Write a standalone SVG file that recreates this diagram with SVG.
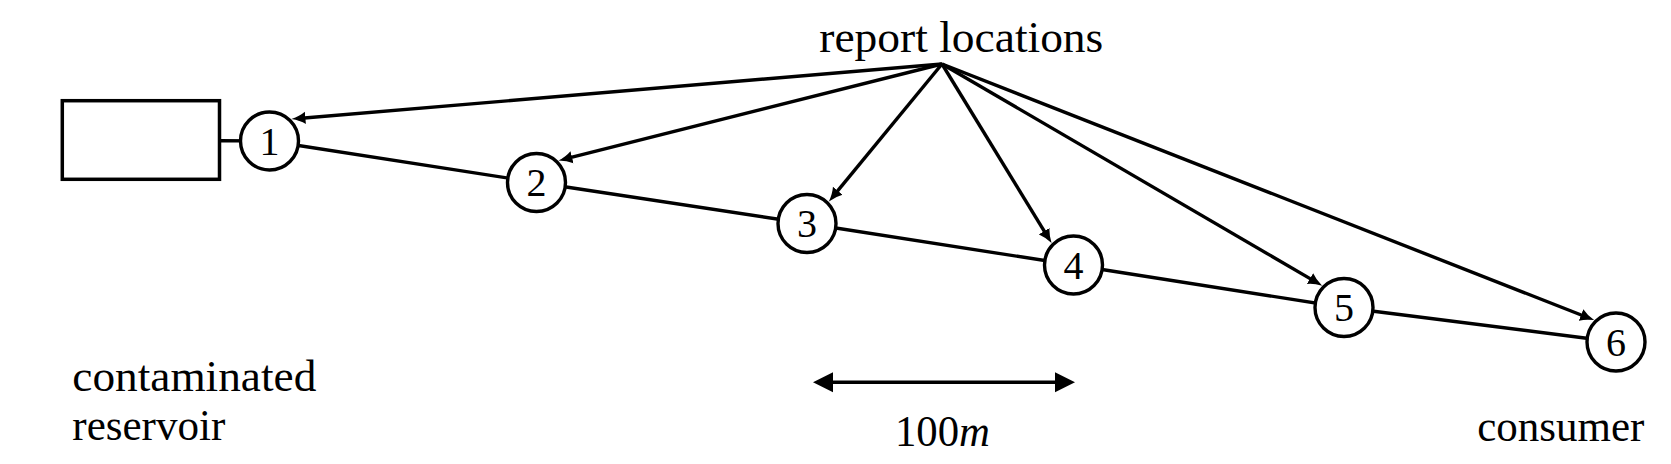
<svg xmlns="http://www.w3.org/2000/svg" width="1671" height="464" viewBox="0 0 1671 464">
<style>
  .lbl { font-family: "Liberation Serif", "Times New Roman", serif; font-size: 44px; fill: #000; }
  .num { font-family: "Liberation Serif", "Times New Roman", serif; font-size: 40px; fill: #000; text-anchor: middle; }
  .node { fill: #fff; stroke: #000; stroke-width: 3.4; }
  .edge { fill: none; stroke: #000; stroke-width: 3.4; }
  .arr { fill: none; stroke: #000; stroke-width: 3.4; marker-end: url(#tip); }
</style>
<defs>
  <marker id="tip" markerUnits="userSpaceOnUse" markerWidth="15" markerHeight="14" viewBox="0 -7 15 14" refX="7" refY="0" orient="auto">
    <path d="M0,-6.2 Q5.5,-2.2 14,0 Q5.5,2.2 0,6.2 Z" fill="#000"/>
  </marker>
  <marker id="big" markerUnits="userSpaceOnUse" markerWidth="21" markerHeight="22" viewBox="0 -11 21 22" refX="11" refY="0" orient="auto-start-reverse">
    <path d="M0,-10 L20,0 L0,10 Z" fill="#000"/>
  </marker>
</defs>
<rect width="1671" height="464" fill="#fff"/>

<g id="connectors">
  <line class="edge" x1="221" y1="140.7" x2="269.5" y2="141"/>
  <line class="edge" x1="269.5" y1="141" x2="536.5" y2="182.5"/>
  <line class="edge" x1="536.5" y1="182.5" x2="807" y2="223.5"/>
  <line class="edge" x1="807" y1="223.5" x2="1073.5" y2="265"/>
  <line class="edge" x1="1073.5" y1="265" x2="1344" y2="307.5"/>
  <line class="edge" x1="1344" y1="307.5" x2="1616" y2="342"/>
  <path class="arr" d="M942,64 L298.4,118.5"/>
  <path class="arr" d="M942,64 L565.2,158.9"/>
  <path class="arr" d="M942,64 L833.3,196.2"/>
  <path class="arr" d="M942,64 L1047.9,237.1"/>
  <path class="arr" d="M942,64 L1316.1,282.1"/>
  <path class="arr" d="M942,64 L1587.6,317.5"/>
  <path d="M822,382.3 L1066,382.3" fill="none" stroke="#000" stroke-width="3.6" marker-start="url(#big)" marker-end="url(#big)"/>
</g>

<g id="reservoir">
  <rect x="62.3" y="100.7" width="157.2" height="78.6" fill="#fff" stroke="#000" stroke-width="3.5"/>
</g>
<g id="n1"><circle class="node" cx="269.5" cy="141" r="29"/><text class="num" x="269.5" y="154.5">1</text></g>
<g id="n2"><circle class="node" cx="536.5" cy="182.5" r="29"/><text class="num" x="536.5" y="196">2</text></g>
<g id="n3"><circle class="node" cx="807" cy="223.5" r="29"/><text class="num" x="807" y="237">3</text></g>
<g id="n4"><circle class="node" cx="1073.5" cy="265" r="29"/><text class="num" x="1073.5" y="278.5">4</text></g>
<g id="n5"><circle class="node" cx="1344" cy="307.5" r="29"/><text class="num" x="1344" y="321">5</text></g>
<g id="n6"><circle class="node" cx="1616" cy="342" r="29"/><text class="num" x="1616" y="355.5">6</text></g>

<g id="labels">
  <text class="lbl" x="819.3" y="51.7" textLength="284" lengthAdjust="spacingAndGlyphs">report locations</text>
  <text class="lbl" x="72.3" y="390.7" textLength="244" lengthAdjust="spacingAndGlyphs">contaminated</text>
  <text class="lbl" x="72.3" y="440" textLength="153" lengthAdjust="spacingAndGlyphs">reservoir</text>
  <text class="lbl" x="1477.3" y="441" textLength="167" lengthAdjust="spacingAndGlyphs">consumer</text>
  <text class="lbl" x="895" y="446" textLength="95" lengthAdjust="spacingAndGlyphs">100<tspan font-style="italic">m</tspan></text>
</g>
</svg>
